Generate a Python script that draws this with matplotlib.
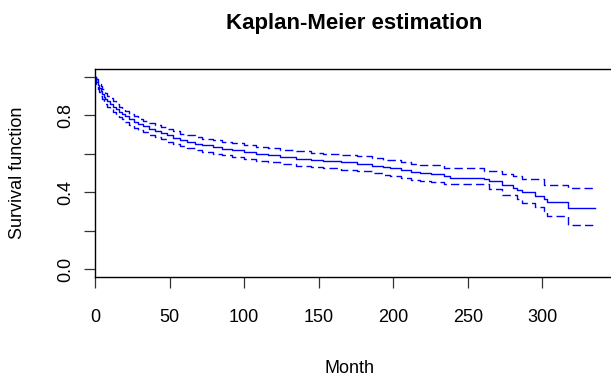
import matplotlib
matplotlib.use("Agg")
import matplotlib.pyplot as plt

# Kaplan-Meier estimate (months, survival)
times = [0, 1, 2, 3, 4, 5, 6, 7, 8,
         10, 12, 14, 16, 18, 20,
         23, 26, 29, 32, 36, 40, 44, 48, 52,
         57, 62, 67, 72, 79, 85, 92, 100,
         108, 116, 124, 135, 145, 153, 165, 176,
         186, 193, 198, 205, 212, 218,
         225, 234, 238, 261, 264, 273, 280, 283, 286, 295, 301, 303, 317, 335]

surv = [1.0, 0.975, 0.955, 0.94, 0.925, 0.91, 0.895, 0.885, 0.872,
        0.86, 0.845, 0.83, 0.818, 0.805, 0.795,
        0.778, 0.765, 0.752, 0.742, 0.728, 0.717, 0.706, 0.695, 0.684,
        0.672, 0.662, 0.652, 0.645, 0.635, 0.627, 0.618, 0.61,
        0.60, 0.592, 0.583, 0.575, 0.568, 0.5625, 0.555, 0.547,
        0.538, 0.53, 0.526, 0.515, 0.507, 0.50,
        0.493, 0.484, 0.476, 0.467, 0.457, 0.436, 0.424, 0.411, 0.401, 0.382, 0.366, 0.349, 0.316, 0.316]

upper = [1.0, 0.99, 0.975, 0.962, 0.95, 0.937, 0.923, 0.913, 0.9,
         0.887, 0.872, 0.857, 0.845, 0.832, 0.823,
         0.806, 0.794, 0.781, 0.771, 0.758, 0.748, 0.737, 0.727, 0.716,
         0.705, 0.695, 0.686, 0.679, 0.67, 0.662, 0.654, 0.646,
         0.637, 0.629, 0.62, 0.613, 0.606, 0.601, 0.594, 0.586,
         0.578, 0.57, 0.566, 0.556, 0.548, 0.542,
         0.542, 0.528, 0.528, 0.512, 0.512, 0.495, 0.484, 0.484, 0.467, 0.467, 0.436, 0.436, 0.424, 0.424]

lower = [1.0, 0.96, 0.935, 0.918, 0.9, 0.883, 0.867, 0.857, 0.844,
         0.833, 0.818, 0.803, 0.791, 0.778, 0.767,
         0.75, 0.736, 0.723, 0.713, 0.698, 0.686, 0.675, 0.663, 0.652,
         0.64, 0.629, 0.619, 0.611, 0.6, 0.592, 0.583, 0.575,
         0.564, 0.556, 0.547, 0.538, 0.531, 0.525, 0.517, 0.508,
         0.499, 0.49, 0.486, 0.474, 0.466, 0.458,
         0.455, 0.441, 0.441, 0.441, 0.417, 0.385, 0.385, 0.363, 0.345, 0.321, 0.304, 0.276, 0.229, 0.229]

xticks = [0, 50, 100, 150, 200, 250, 300]
yticks = [0.0, 0.2, 0.4, 0.6, 0.8, 1.0]
ylabels = ["0.0", "", "0.4", "", "0.8", ""]

plt.rcParams['font.family'] = ['Liberation Sans', 'DejaVu Sans']

W, H = 611, 378
fig = plt.figure(figsize=(W / 100, H / 100), dpi=100)
# box runs past the right edge of the picture, like the original
ax = fig.add_axes([95 / W, (H - 277) / H, (614 - 95) / W, (277 - 69) / H])

ax.step(times, surv, where='post', color='#0000ff', lw=1.0)
ax.step(times, upper, where='post', color='#0000ff', lw=1.0, dashes=(6, 3))
ax.step(times, lower, where='post', color='#0000ff', lw=1.0, dashes=(6, 3))

ax.set_xlim(0, 348)
ax.set_ylim(-0.04, 1.04)
ax.set_xticks(xticks)
ax.set_yticks(yticks)
ax.set_yticklabels(ylabels, rotation=90, va='center')

for s in ax.spines.values():
  s.set_linewidth(1.0)
  s.set_color('black')
ax.tick_params(axis='both', length=8, width=0.9, color='#333333', labelsize=13)
ax.tick_params(axis='x', pad=15)
ax.tick_params(axis='y', pad=7)

fig.text(354 / W, 1 - 29 / H, "Kaplan-Meier estimation", ha='center', va='baseline',
         fontsize=16, fontweight='bold')
fig.text(349 / W, 1 - 373 / H, "Month", ha='center', va='baseline', fontsize=13)
fig.text(18 / W, 1 - 173 / H, "Survival function", ha='center', va='center',
         rotation=90, fontsize=13)

fig.savefig("out.png", dpi=100)
